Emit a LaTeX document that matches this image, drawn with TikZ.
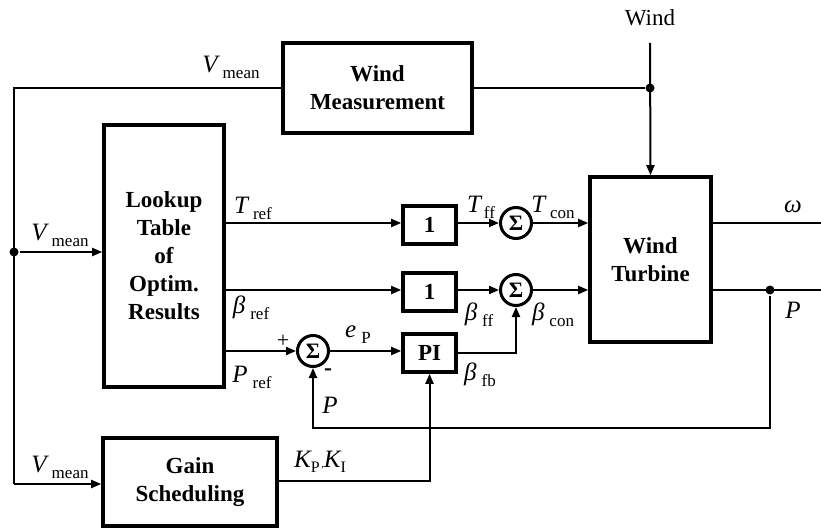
\documentclass[tikz,border=0pt]{standalone}
\usepackage{fontspec}
\setmainfont{Liberation Serif}
\usetikzlibrary{arrows.meta,positioning,calc}
\newcommand\sig[2]{{\fontsize{25}{25}\selectfont\itshape #1}\hspace{5pt}\raisebox{-6pt}{\fontsize{17}{17}\selectfont #2}}
\begin{document}
\begin{tikzpicture}[x=1pt,y=-1pt,>={Triangle[length=10pt,width=8pt]},line width=2pt,
box/.style={draw,line width=3.6pt,align=center,inner sep=0pt,font=\fontsize{23}{28}\selectfont\bfseries},
sumnode/.style={draw,circle,line width=3pt,minimum size=31pt,inner sep=0pt,font=\fontsize{22}{22}\selectfont\bfseries},
dot/.style={circle,fill,inner sep=0pt,minimum size=9pt},
lbl/.style={inner sep=0pt}]
\useasboundingbox (0,0) rectangle (821,529);
\node[box,minimum width=189pt,minimum height=90pt] (wm) at (377.5,88) {Wind\\Measurement};
\node[box,minimum width=120pt,minimum height=262pt] (lut) at (164,256) {Lookup\\Table\\of\\Optim.\\Results};
\node[box,minimum width=121pt,minimum height=165pt] (wt) at (650.5,259.5) {Wind\\Turbine};
\node[box,minimum width=174pt,minimum height=88pt] (gs) at (190,482) {Gain\\Scheduling};
\node[box,minimum width=53pt,minimum height=38pt] (ff1) at (429.5,225) {1};
\node[box,minimum width=53pt,minimum height=38pt] (ff2) at (429.5,292) {1};
\node[box,minimum width=53pt,minimum height=38pt] (pi) at (429.5,353) {PI};
\node[sumnode] (s1) at (516,223) {Σ};
\node[sumnode] (s2) at (516,290) {Σ};
\node[sumnode] (s3) at (313,351) {Σ};
\node[dot] (dw) at (650,88) {};
\node[dot] (dl) at (14,252) {};
\node[dot] (dp) at (770,290) {};
\coordinate (windin) at (650,43);
\coordinate (ltop) at (14,88);
\coordinate (lbot) at (14,484);
\coordinate (womega) at (821,223);
\coordinate (wp) at (821,290);
% wind and measurement
\node[lbl,font=\fontsize{23}{23}\selectfont] (wind) at (650,18) {Wind};
\draw[->] (windin) -- (wt.north);
\draw (wm.east) -- (dw);
\draw (wm.west) -- (ltop) -- (lbot);
\draw[->] (dl) -- (lut.west |- dl);
\draw[->] (lbot) -- (gs.west |- lbot);
% torque and pitch paths
\draw[->] (lut.east |- s1) -- (ff1.west |- s1);
\draw[->] (ff1.east |- s1) -- (s1);
\draw[->] (s1) -- (wt.west |- s1);
\draw[->] (lut.east |- s2) -- (ff2.west |- s2);
\draw[->] (ff2.east |- s2) -- (s2);
\draw[->] (s2) -- (wt.west |- s2);
\draw[->] (lut.east |- s3) -- (s3);
\draw[->] (s3) -- (pi.west |- s3);
\draw[->] (pi.east) -| (s2.south);
\draw (wt.east |- s1) -- (womega);
\draw (wt.east |- s2) -- (wp);
\draw[->] (dp) -- (dp |- 0,428) -| (s3.south);
\draw[->] (gs.east |- 0,481) -| (pi.south);
% labels
\node[lbl] (vm1) at (231,67) {\sig{V}{mean}};
\node[lbl] (vm2) at (60,235) {\sig{V}{mean}};
\node[lbl] (vm3) at (60,467) {\sig{V}{mean}};
\node[lbl] (tref) at (253,208) {\sig{T}{ref}};
\node[lbl] (bref) at (251,308) {\sig{β}{ref}};
\node[lbl] (pref) at (252,377) {\sig{P}{ref}};
\node[lbl] (ep) at (358,335) {\sig{e}{P}};
\node[lbl] (pfb) at (330,405) {\fontsize{25}{25}\selectfont\itshape P};
\node[lbl] (kpi) at (320,462) {{\fontsize{25}{25}\selectfont\itshape K}\raisebox{-5pt}{\fontsize{16}{16}\selectfont P}\,,{\fontsize{25}{25}\selectfont\itshape K}\raisebox{-5pt}{\fontsize{16}{16}\selectfont I}};
\node[lbl] (tff) at (481,207) {{\fontsize{25}{25}\selectfont\itshape T}\hspace{3pt}\raisebox{-6pt}{\fontsize{17}{17}\selectfont ff}};
\node[lbl] (tcon) at (553,207) {\sig{T}{con}};
\node[lbl] (bff) at (479,315) {\sig{β}{ff}};
\node[lbl] (bcon) at (553,315) {\sig{β}{con}};
\node[lbl] (bfb) at (480,375) {\sig{β}{fb}};
\node[lbl] (om) at (793,207) {\fontsize{25}{25}\selectfont\itshape ω};
\node[lbl] (pout) at (793,310) {\fontsize{25}{25}\selectfont\itshape P};
\node[lbl,font=\fontsize{22}{22}\selectfont] (plus) at (283,341) {+};
\node[lbl,font=\fontsize{24}{24}\selectfont\bfseries] (minus) at (328,372) {-};
\end{tikzpicture}
\end{document}
